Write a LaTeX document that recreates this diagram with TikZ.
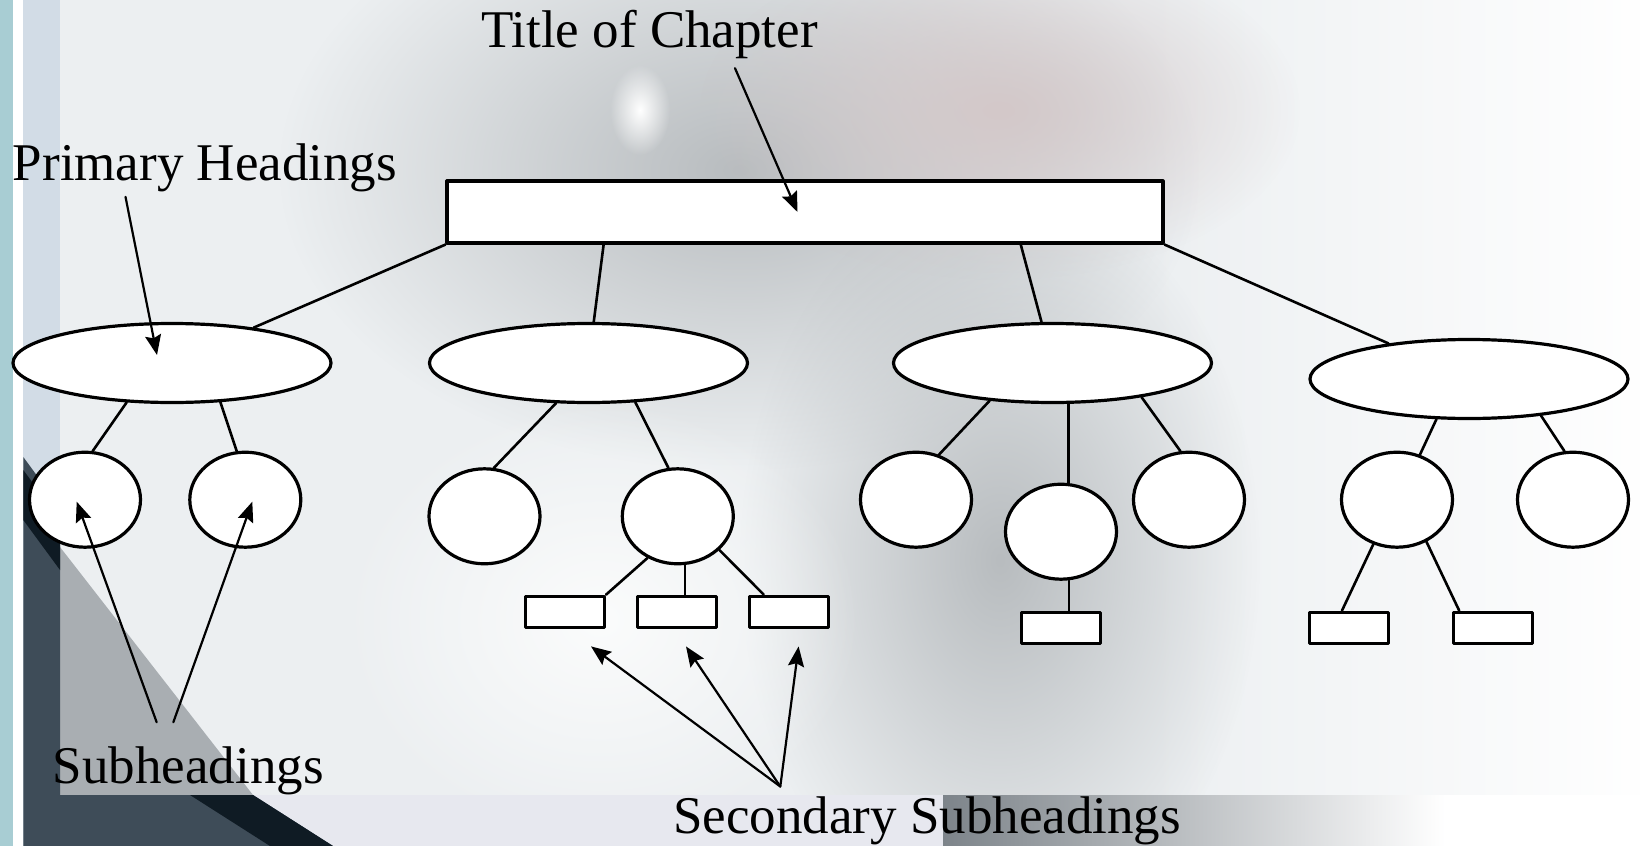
\documentclass[tikz,border=0pt]{standalone}
\usepackage{fontspec}
\setmainfont{Liberation Serif}
\usetikzlibrary{shapes.geometric,arrows.meta,calc,fadings}
\definecolor{stripteal}{HTML}{A8CDD3}
\definecolor{colblue}{HTML}{D2DCE6}
\definecolor{paper}{HTML}{ECEFF1}
\definecolor{photogray}{HTML}{B8BCBF}
\definecolor{photopink}{HTML}{D3C8C9}
\definecolor{shadow}{HTML}{3E4C58}
\definecolor{shadowdeep}{HTML}{0F1B24}
\definecolor{wedge}{HTML}{A9AEB2}
\definecolor{bandlight}{HTML}{E7E8EF}
\definecolor{bandgray}{HTML}{7D848A}
\tikzfading[name=softblob,inner color=transparent!0,outer color=transparent!100]
\begin{document}
\begin{tikzpicture}[x=0.5pt,y=-0.5pt,line join=round,line cap=round,>={Stealth[length=10pt,width=8pt,inset=1.5pt]}]
	\tikzset{every node/.style={inner sep=0pt},
		chapbox/.style={draw,fill=white,line width=1.6pt,minimum width=358pt,minimum height=31pt},
		primary/.style={ellipse,draw,fill=white,line width=1.6pt,minimum width=159pt,minimum height=39.5pt},
		subhead/.style={ellipse,draw,fill=white,line width=1.6pt,minimum width=55.5pt,minimum height=47.5pt},
		secbox/.style={draw,fill=white,line width=1.5pt,minimum width=39.5pt,minimum height=15.5pt},
		headtext/.style={font=\fontsize{26.5}{30}\selectfont},
		branch/.style={line width=1.3pt},
		pointer/.style={->,line width=1.1pt},
		blob/.style={path fading=softblob}}
	\useasboundingbox (0,0) rectangle (1640,846);
	\begin{scope}
		\clip (0,0) rectangle (1640,846);
		\fill[stripteal] (0,0) rectangle (12.7,846);
		\fill[white] (12.7,0) rectangle (23.3,846);
		\fill[colblue] (23.3,0) rectangle (60,846);
		\fill[paper] (60,0) rectangle (1640,795);
		\shade[left color=paper,right color=white!96!paper] (1150,0) rectangle (1640,795);
		\fill[photogray,blob] (740,170) ellipse (460 and 300);
		\fill[photopink,blob] (1000,110) ellipse (300 and 170);
		\fill[photogray,blob] (1000,560) ellipse (260 and 380);
		\fill[white!80!paper,blob] (600,620) ellipse (260 and 220);
		\fill[white,blob] (640,110) ellipse (30 and 45);
		\fill[wedge] (60,547) -- (253,795) -- (60,795) -- cycle;
		\fill[bandlight] (60,795) rectangle (1640,846);
		\shade[left color=bandgray,right color=white] (943,795) rectangle (1445,846);
		\fill[white] (1445,795) rectangle (1640,846);
		\fill[shadow] (23.3,457) -- (60,507) -- (60,795) -- (253,795) -- (333,846) -- (23.3,846) -- cycle;
		\fill[shadowdeep] (23.3,470) -- (60,520) -- (60,570) -- (23.3,520) -- cycle;
		\fill[shadowdeep] (190,795) -- (253,795) -- (333,846) -- (270,846) -- cycle;
	\end{scope}
	\node[chapbox] (title) at (805,212) {};
	\foreach \n/\x/\y in {1/172/363,2/588.5/363,3/1052.5/363,4/1469/379}
	\node[primary] (p\n) at (\x,\y) {};
	\foreach \n/\x/\y in {1/85/499.7,2/245.3/499.7,3/484.5/516.3,4/677.8/516.3,5/916/499.7,6/1061/531.7,7/1189/499.7,8/1397/499.7,9/1573/499.7}
	\node[subhead] (s\n) at (\x,\y) {};
	\foreach \n/\x/\y in {1/565/611.7,2/677/611.7,3/789/611.7,4/1060.6/627.7,5/1348.8/627.7,6/1492.6/627.7}
	\node[secbox] (r\n) at (\x,\y) {};
	\draw[branch] (title.south west) -- (p1);
	\draw[branch] ($(title.south west)!0.22!(title.south east)$) -- (p2);
	\draw[branch] ($(title.south west)!0.80!(title.south east)$) -- (p3);
	\draw[branch] (title.south east) -- (p4);
	\draw[branch] (p1.221) -- (s1.81);
	\draw[branch] (p1.321) -- (s2.100);
	\draw[branch] (p2.231) -- (s3.79);
	\draw[branch] (p2.320) -- (s4.101);
	\draw[branch] (p3.211) -- (s5.63);
	\draw[branch] (s6.81) -- (s6.81 |- p3.south);
	\draw[branch] (p3.339) -- (s7.100);
	\draw[branch] (p4.231) -- (s8.63);
	\draw[branch] (p4.333) -- (s9.100);
	\draw[branch] (s4.234) -- (r1.north east);
	\draw[branch] ([xshift=4pt]r2.north) -- ([xshift=4pt]r2.north |- s4.south);
	\draw[branch] (s4.321) -- (r3.146);
	\draw[branch] ([xshift=4.2pt]r4.north) -- ([xshift=4.2pt]r4.north |- s6.south);
	\draw[branch] (s8.242) -- (r5.112);
	\draw[branch] (s8.305) -- (r6.153);
	\node[headtext,anchor=base] (tlab) at (649.5,47) {Title of Chapter};
	\node[headtext,anchor=base] (plab) at (205,180) {Primary Headings};
	\node[headtext,anchor=base] (slab) at (188.3,783.3) {Subheadings};
	\node[headtext,anchor=base] (sslab) at (927,833) {Secondary Subheadings};
	\draw[pointer] ($(tlab.south)+(85.5,9.5)$) -- ($(title.center)+(-7.5,0)$);
	\draw[pointer] ($(plab.south)+(-79.5,5)$) -- ($(p1.center)+(-15,-8)$);
	\draw[pointer] ($(slab.north)+(-31.6,-23.8)$) -- ($(s1.center)+(-8.3,2)$);
	\draw[pointer] ($(slab.north)+(-15,-23.8)$) -- ($(s2.center)+(7,2)$);
	\coordinate (apex) at ($(sslab.north)+(-146.7,-9.3)$);
	\foreach \r/\dx in {r1/26,r2/9,r3/9.6}
	\draw[pointer] (apex) -- ($(\r.south)+(\dx,17.7)$);
\end{tikzpicture}
\end{document}
